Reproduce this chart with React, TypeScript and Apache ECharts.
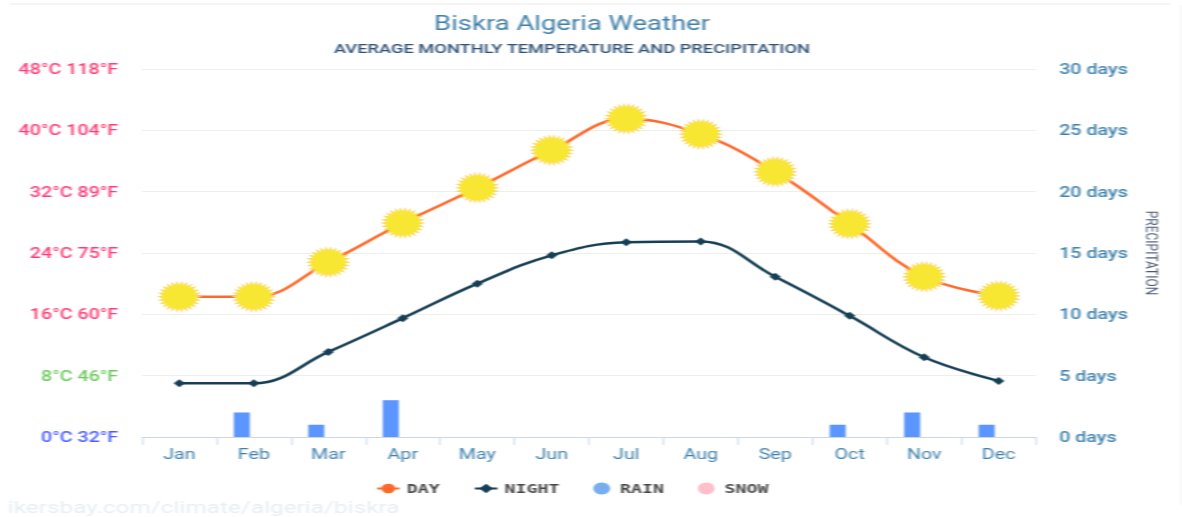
import React, { useEffect, useRef } from "react";
import * as echarts from "echarts";

const months = ["Jan", "Feb", "Mar", "Apr", "May", "Jun", "Jul", "Aug", "Sep", "Oct", "Nov", "Dec"];
const dayTemps = [18.3, 18.3, 22.8, 27.9, 32.5, 37.4, 41.5, 39.5, 34.6, 27.8, 20.9, 18.4];
const nightTemps = [7, 7, 11.1, 15.5, 20, 23.7, 25.4, 25.5, 20.9, 15.8, 10.4, 7.3];
const rainDays = [0, 2, 1, 3, 0, 0, 0, 0, 0, 1, 2, 1];
const snowDays = [0, 0, 0, 0, 0, 0, 0, 0, 0, 0, 0, 0];
const tempTickLabels = ["0°C 32°F", "8°C 46°F", "16°C 60°F", "24°C 75°F", "32°C 89°F", "40°C 104°F", "48°C 118°F"];
const tempTickColors = ["#4a5cff", "#6ccb5e", "#ff3d76", "#ff3d76", "#ff3d76", "#ff3d76", "#ff3d76"];

const FONT = "Roboto";
// The reference is a chart 840 wide that was stretched sideways to fill 1182.
const NATIVE_WIDTH = 840;
const STRETCH = 1182 / NATIVE_WIDTH;

function sunPath(spikes: number): string {
  const parts: string[] = [];
  for (let i = 0; i < spikes * 2; i++) {
    const r = i % 2 === 0 ? 50 : 37;
    const a = (Math.PI * i) / spikes;
    const x = (50 + r * Math.cos(a)).toFixed(2);
    const y = (50 + r * Math.sin(a)).toFixed(2);
    parts.push(`${i === 0 ? "M" : "L"}${x} ${y}`);
  }
  return `path://${parts.join(" ")} Z`;
}

const SUN = sunPath(26);
const sunFill = {
  type: "radial",
  x: 0.5,
  y: 0.5,
  r: 0.5,
  colorStops: [
    { offset: 0, color: "#f7e733" },
    { offset: 0.76, color: "#f7e733" },
    { offset: 0.82, color: "#fbd565" },
    { offset: 1, color: "#fbd565" },
  ],
};

export default function App() {
  const ref = useRef<HTMLDivElement>(null);
  useEffect(() => {
    const chart = echarts.init(ref.current!, undefined, { renderer: "svg" });
    chart.setOption({
      animation: false,
      backgroundColor: "#ffffff",
      title: {
        text: "Biskra Algeria Weather",
        subtext: "AVERAGE MONTHLY TEMPERATURE AND PRECIPITATION",
        left: 401.5,
        textAlign: "center",
        top: 8.5,
        itemGap: 8,
        textStyle: { fontFamily: FONT, fontSize: 19.5, fontWeight: "normal", color: "#3f7fa8" },
        subtextStyle: { fontFamily: FONT, fontSize: 13, fontWeight: 500, color: "#2f5378" },
      },
      grid: { left: 101, right: 103.8, top: 69, bottom: 80, containLabel: false },
      legend: {
        bottom: 17,
        left: 262,
        itemWidth: 16,
        itemHeight: 12,
        itemGap: 24,
        textStyle: { fontFamily: "DejaVu Sans Mono", fontSize: 13, fontWeight: "bold", color: "#484848" },
        data: [
          { name: "DAY" },
          { name: "NIGHT" },
          { name: "RAIN", icon: "circle", itemStyle: { color: "#76aef0" } },
          { name: "SNOW", icon: "circle", itemStyle: { color: "#ffc0cb" } },
        ],
      },
      xAxis: {
        type: "category",
        data: months,
        boundaryGap: true,
        axisLine: { lineStyle: { color: "#ccd6eb", width: 1 } },
        axisTick: { show: true, alignWithLabel: false, length: 8, lineStyle: { color: "#ccd6eb" } },
        axisLabel: { fontFamily: FONT, fontSize: 14, color: "#3f82ad", margin: 10 },
      },
      yAxis: [
        {
          type: "value",
          min: 0,
          max: 48,
          interval: 8,
          splitLine: { lineStyle: { color: "#eeeeee", width: 1 } },
          axisLine: { show: false },
          axisTick: { show: false },
          axisLabel: {
            fontFamily: FONT,
            fontSize: 14,
            fontWeight: 500,
            margin: 17,
            padding: [3, 0, 0, 0],
            formatter: (v: number) => tempTickLabels[v / 8],
            color: (v: any) => tempTickColors[Number(v) / 8],
          },
        },
        {
          type: "value",
          min: 0,
          max: 30,
          interval: 5,
          position: "right",
          name: "PRECIPITATION",
          nameLocation: "middle",
          nameRotate: -90,
          nameGap: 72,
          nameTextStyle: { fontFamily: FONT, fontSize: 12, color: "#4a5a75" },
          splitLine: { show: false },
          axisLine: { show: false },
          axisTick: { show: false },
          axisLabel: {
            fontFamily: FONT,
            fontSize: 14,
            fontWeight: 500,
            margin: 16.5,
            padding: [3, 0, 0, 0],
            color: "#3f82ad",
            formatter: (v: number) => `${v} days`,
          },
        },
      ],
      series: [
        {
          name: "RAIN",
          type: "bar",
          yAxisIndex: 1,
          barWidth: 11.4,
          barGap: "50%",
          itemStyle: { color: "#5b96ff" },
          data: rainDays,
        },
        {
          name: "SNOW",
          type: "bar",
          yAxisIndex: 1,
          barWidth: 11.4,
          barGap: "50%",
          itemStyle: { color: "#ffc0cb" },
          data: snowDays,
        },
        {
          name: "NIGHT",
          type: "line",
          smooth: 0.4,
          symbol: "diamond",
          symbolSize: 8,
          itemStyle: { color: "#163f55" },
          lineStyle: { color: "#163f55", width: 2.5 },
          data: nightTemps,
        },
        {
          name: "DAY",
          type: "line",
          smooth: 0.4,
          symbol: "circle",
          symbolSize: 8,
          itemStyle: { color: "#ff6a2b" },
          lineStyle: { color: "#ff6a2b", width: 2.5 },
          data: dayTemps.map((value) => ({
            value,
            symbol: SUN,
            symbolSize: 32,
            itemStyle: { color: sunFill },
          })),
        },
      ],
      graphic: [
        { type: "rect", shape: { x: 7, y: 3, width: 825, height: 2 }, style: { fill: "#f5f5f5" } },
        { type: "rect", shape: { x: 838.5, y: 5, width: 1.5, height: 500 }, style: { fill: "#f7f7f7" } },
        {
          type: "text",
          x: 5.5,
          y: 498,
          style: {
            text: "ikersbay.com/climate/algeria/biskra",
            font: `17.3px ${FONT}`,
            fill: "#e6eef3",
          },
        },
      ],
    });
    return () => chart.dispose();
  }, []);
  return (
    <div
      ref={ref}
      style={{
        position: "absolute",
        left: 0,
        top: 0,
        width: NATIVE_WIDTH,
        height: 517,
        transformOrigin: "0 0",
        transform: `scaleX(${STRETCH})`,
        filter: "blur(0.7px)",
      }}
    />
  );
}
